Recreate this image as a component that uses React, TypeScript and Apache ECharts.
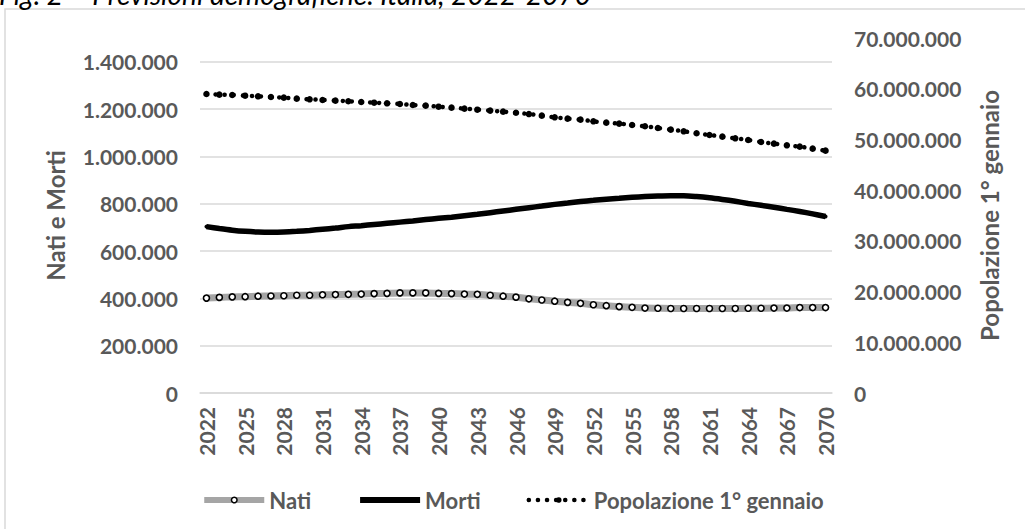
import React, { useEffect, useRef } from "react";
import * as echarts from "echarts";

const years = [
  "2022","2023","2024","2025","2026","2027","2028","2029","2030","2031",
  "2032","2033","2034","2035","2036","2037","2038","2039","2040","2041",
  "2042","2043","2044","2045","2046","2047","2048","2049","2050","2051",
  "2052","2053","2054","2055","2056","2057","2058","2059","2060","2061",
  "2062","2063","2064","2065","2066","2067","2068","2069","2070",
];

const nati = [
  401000, 404000, 406000, 407000, 409000, 410000, 411000, 413000, 413000, 415000,
  416000, 417000, 418000, 420000, 421000, 423000, 423000, 423000, 421000, 420000,
  418000, 417000, 413000, 409000, 405000, 398000, 393000, 388000, 383000, 379000,
  373000, 369000, 365000, 362000, 359000, 358000, 357000, 357000, 357000, 357000,
  357000, 357000, 358000, 358000, 359000, 359000, 361000, 361000, 361000,
];

const morti = [
  703000, 695000, 688000, 683000, 680000, 679000, 680000, 683000, 687000, 692000,
  697000, 703000, 707000, 712000, 717000, 722000, 727000, 733000, 738000, 743000,
  749000, 755000, 762000, 769000, 776000, 783000, 790000, 797000, 803000, 809000,
  814000, 819000, 823000, 827000, 830000, 832000, 833000, 833000, 830000, 825000,
  818000, 810000, 801000, 793000, 785000, 776000, 767000, 757000, 746000,
];

const popolazione = [
  58960000, 58830000, 58770000, 58630000, 58500000, 58370000, 58240000, 58040000, 57910000, 57780000,
  57650000, 57520000, 57390000, 57250000, 57120000, 56990000, 56790000, 56660000, 56460000, 56270000,
  56070000, 55870000, 55680000, 55480000, 55250000, 55000000, 54690000, 54360000, 54100000, 53900000,
  53570000, 53310000, 53110000, 52850000, 52590000, 52260000, 51930000, 51600000, 51210000, 50880000,
  50550000, 50220000, 49890000, 49500000, 49170000, 48840000, 48580000, 48180000, 47790000,
];

const seriesNames = ["Nati", "Morti", "Popolazione 1° gennaio"];
const leftAxisName = "Nati e Morti";
const rightAxisName = "Popolazione 1° gennaio";
const titleText = "Fig. 2 – Previsioni demografiche. Italia, 2022-2070";

const FONT = "Lato, 'Liberation Sans', sans-serif";
const GREY_TEXT = "#595959";
const GRID_COLOR = "#d9d9d9";

function fmt(v: number): string {
  return Math.round(v).toString().replace(/\B(?=(\d{3})+(?!\d))/g, ".");
}

export default function App() {
  const ref = useRef<HTMLDivElement>(null);

  useEffect(() => {
    if (!ref.current) return;
    const chart = echarts.init(ref.current, undefined, { renderer: "svg" });
    chart.setOption({
      animation: false,
      backgroundColor: "#ffffff",
      textStyle: { fontFamily: FONT },
      graphic: [
        {
          type: "rect",
          shape: { x: 5, y: 9, width: 1040, height: 560 },
          style: { fill: "none", stroke: GRID_COLOR, lineWidth: 1.5 },
          silent: true,
        },
        {
          type: "text",
          x: -1,
          y: -6,
          style: {
            text: titleText,
            fontFamily: FONT,
            fontStyle: "italic",
            fontSize: 28,
            fill: "#000000",
            verticalAlign: "middle",
          },
          silent: true,
        },
      ],
      grid: { left: 200, right: 193, top: 38, bottom: 136, containLabel: false },
      legend: {
        data: [
          {
            name: seriesNames[0],
            lineStyle: { color: "#a5a5a5", width: 6 },
            itemStyle: { color: "#ffffff", borderColor: "#000000", borderWidth: 1.5 },
          },
          {
            name: seriesNames[1],
            lineStyle: { color: "#000000", width: 6 },
            itemStyle: { color: "#000000" },
          },
          {
            name: seriesNames[2],
            lineStyle: { color: "#000000", width: 4.5, type: [0.1, 9], cap: "round" },
            itemStyle: { color: "#000000" },
          },
        ],
        left: "center",
        top: 484,
        itemWidth: 60,
        itemHeight: 7,
        itemGap: 46,
        textStyle: { fontFamily: FONT, fontWeight: "bold", fontSize: 22, color: GREY_TEXT },
      },
      xAxis: {
        type: "category",
        data: years,
        boundaryGap: true,
        axisLine: { show: true, lineStyle: { color: GRID_COLOR, width: 1.5 } },
        axisTick: { show: false },
        axisLabel: {
          interval: 2,
          rotate: 90,
          margin: 14,
          fontFamily: FONT,
          fontWeight: "bold",
          fontSize: 21,
          color: GREY_TEXT,
        },
        splitLine: { show: false },
      },
      yAxis: [
        {
          type: "value",
          min: 0,
          max: 1500000,
          interval: 200000,
          name: leftAxisName,
          nameLocation: "middle",
          nameRotate: 90,
          nameGap: 133,
          nameTextStyle: { fontFamily: FONT, fontWeight: "bold", fontSize: 24, color: GREY_TEXT },
          axisLine: { show: false },
          axisTick: { show: false },
          axisLabel: {
            showMaxLabel: false,
            margin: 22,
            fontFamily: FONT,
            fontWeight: "bold",
            fontSize: 21,
            color: GREY_TEXT,
            formatter: (v: number) => fmt(v),
          },
          splitLine: { show: true, showMaxLine: false, lineStyle: { color: GRID_COLOR, width: 1.5 } },
        },
        {
          type: "value",
          min: 0,
          max: 70000000,
          interval: 10000000,
          name: rightAxisName,
          nameLocation: "middle",
          nameRotate: 90,
          nameGap: 145,
          nameTextStyle: { fontFamily: FONT, fontWeight: "bold", fontSize: 24, color: GREY_TEXT },
          axisLine: { show: false },
          axisTick: { show: false },
          axisLabel: {
            margin: 22,
            fontFamily: FONT,
            fontWeight: "bold",
            fontSize: 21,
            color: GREY_TEXT,
            formatter: (v: number) => fmt(v),
          },
          splitLine: { show: false },
        },
      ],
      series: [
        {
          name: seriesNames[0],
          type: "line",
          data: nati,
          yAxisIndex: 0,
          smooth: 0.3,
          symbol: "circle",
          symbolSize: 6,
          showSymbol: true,
          lineStyle: { color: "#a5a5a5", width: 7 },
          itemStyle: { color: "#ffffff", borderColor: "#000000", borderWidth: 1.6 },
          z: 3,
        },
        {
          name: seriesNames[1],
          type: "line",
          data: morti,
          yAxisIndex: 0,
          smooth: 0.3,
          symbol: "circle",
          symbolSize: 4,
          showSymbol: true,
          lineStyle: { color: "#000000", width: 5.5 },
          itemStyle: { color: "#000000" },
          z: 3,
        },
        {
          name: seriesNames[2],
          type: "line",
          data: popolazione,
          yAxisIndex: 1,
          smooth: 0.3,
          symbol: "circle",
          symbolSize: 6.5,
          showSymbol: true,
          lineStyle: { color: "#000000", width: 4.5, type: [0.1, 9], cap: "round" },
          itemStyle: { color: "#000000" },
          z: 3,
        },
      ],
    });
    return () => chart.dispose();
  }, []);

  return (
    <div
      ref={ref}
      style={{ position: "absolute", left: 0, top: 0, width: 1025, height: 529 }}
    />
  );
}
